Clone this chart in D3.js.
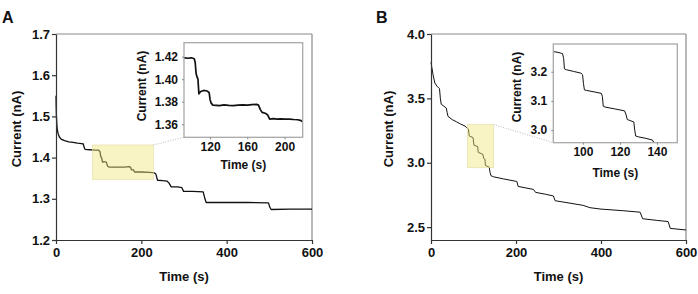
<!DOCTYPE html>
<html><head><meta charset="utf-8">
<script src="https://cdn.jsdelivr.net/npm/d3@7"></script>
<style>
body{margin:0;background:#fff;}
text{font-family:"Liberation Sans",Arial,sans-serif;font-weight:bold;fill:#111;}
</style></head><body>
<svg id="c" width="698" height="294"></svg>
<script>
// ---------- data ----------
const xTicksMain = [0, 200, 400, 600];
const yTicksA = [1.2, 1.3, 1.4, 1.5, 1.6, 1.7];
const yTicksB = [2.5, 3.0, 3.5, 4.0];
const xTicksInsetA = [120, 160, 200];
const yTicksInsetA = [1.36, 1.38, 1.40, 1.42];
const xTicksInsetB = [100, 120, 140];
const yTicksInsetB = [3.0, 3.1, 3.2];

const xDomainMain = [0, 600];
const yDomainA = [1.2, 1.7];
const yDomainB = [2.4, 4.0];
const insetAx = [92, 219.5], insetAy = [1.3484, 1.4324];
const insetBx = [84, 151], insetBy = [2.957, 3.295];
const highlightAx = [85, 228], highlightAy = [1.347, 1.4306];
const highlightBx = [86, 147], highlightBy = [2.961, 3.297];

// Panel A main trace [time s, current nA]
const traceA = [[0,1.55],[0.5,1.52],[1,1.50],[2,1.48],[3,1.468],[5,1.458],[8,1.450],[12,1.445],[20,1.441],[30,1.438],[40,1.437],[50,1.435],[60,1.434],[64,1.433],[66,1.425],[68,1.420],[80,1.419],[90,1.418],[100,1.418],[103,1.415],[105,1.402],[107,1.400],[109,1.389],[112,1.390],[118,1.389],[121,1.379],[124,1.377],[140,1.377],[160,1.377],[172,1.378],[175,1.376],[177,1.370],[182,1.370],[184,1.365],[200,1.365],[220,1.364],[230,1.363],[234,1.360],[238,1.345],[250,1.344],[260,1.343],[265,1.338],[270,1.329],[285,1.329],[295,1.327],[299,1.318],[320,1.318],[345,1.317],[349,1.300],[352,1.291],[400,1.291],[450,1.291],[498,1.290],[501,1.280],[504,1.274],[550,1.275],[600,1.275]];
// Panel A inset trace
const insetTraceA = [[90,1.4185],[93,1.4190],[96,1.4186],[100,1.4190],[103,1.4182],[104,1.4150],[105,1.4050],[106,1.4020],[107,1.4000],[108,1.3870],[110,1.3890],[113,1.3900],[117,1.3895],[119,1.3880],[120,1.3820],[121,1.3790],[123,1.3770],[127,1.3768],[130,1.3765],[135,1.3772],[140,1.3768],[145,1.3766],[150,1.3770],[155,1.3772],[160,1.3770],[165,1.3774],[170,1.3776],[172,1.3770],[174,1.3730],[176,1.3705],[180,1.3695],[182,1.3680],[184,1.3645],[188,1.3650],[192,1.3646],[196,1.3648],[200,1.3645],[205,1.3646],[210,1.3642],[214,1.3640],[217,1.3635],[220,1.3620]];
// Panel B main trace
const traceB = [[0,3.78],[2,3.74],[5,3.68],[9,3.62],[14,3.595],[20,3.575],[22,3.50],[24,3.455],[30,3.44],[36,3.425],[38,3.39],[40,3.36],[50,3.335],[60,3.318],[70,3.30],[80,3.285],[84,3.272],[88,3.262],[90,3.208],[99,3.195],[101,3.137],[110,3.126],[111,3.080],[122,3.066],[124,3.034],[127,3.028],[128,2.979],[137,2.966],[139,2.925],[141,2.900],[147,2.891],[170,2.875],[198,2.857],[202,2.855],[205,2.816],[241,2.793],[246,2.770],[270,2.755],[288,2.742],[292,2.705],[320,2.690],[358,2.669],[374,2.651],[400,2.640],[450,2.628],[492,2.616],[498,2.565],[530,2.553],[558,2.543],[563,2.490],[600,2.478]];
// Panel B inset trace
const insetTraceB = [[84,3.269],[86,3.267],[88,3.264],[89,3.262],[89.6,3.245],[90,3.210],[91,3.207],[95,3.201],[99,3.195],[99.8,3.190],[100.3,3.160],[100.8,3.138],[102,3.136],[106,3.131],[110,3.126],[110.5,3.115],[111,3.082],[112,3.079],[117,3.073],[122.5,3.066],[123.2,3.055],[124,3.036],[125,3.034],[127.5,3.028],[128,3.000],[128.5,2.980],[130,2.977],[134,2.972],[137.6,2.966],[138.5,2.955]];

// ---------- drawing ----------
const svg = d3.select("#c");
const defs = svg.append("defs");

function panel(o){
  const g = svg.append("g");
  const x = d3.scaleLinear().domain(xDomainMain).range([o.x0, o.x1]);
  const y = d3.scaleLinear().domain(o.yDomain).range([240, 34]);
  // frame top/right
  g.append("line").attr("x1",o.x0).attr("x2",o.x1).attr("y1",34).attr("y2",34).attr("stroke","#8a8a8a").attr("stroke-width",1.2);
  g.append("line").attr("x1",o.x1).attr("x2",o.x1).attr("y1",34).attr("y2",240).attr("stroke","#8a8a8a").attr("stroke-width",1.2);
  const line = d3.line().x(d=>x(d[0])).y(d=>y(d[1]));
  g.append("path").datum(o.trace).attr("d",line).attr("fill","none").attr("stroke","#111").attr("stroke-width",o.sw).attr("stroke-linejoin","round");
  // highlight
  g.append("rect").attr("x",x(o.hx[0])).attr("width",x(o.hx[1])-x(o.hx[0]))
    .attr("y",y(o.hy[1])).attr("height",y(o.hy[0])-y(o.hy[1]))
    .attr("fill","#f0e67c").attr("fill-opacity",0.45).attr("stroke","#e2dca0").attr("stroke-width",0.6);
  // axes
  const ax = g.append("g").attr("transform","translate(0,240)")
    .call(d3.axisBottom(x).tickValues(xTicksMain).tickSize(4).tickSizeOuter(0).tickPadding(4).tickFormat(d3.format("d")));
  const ay = g.append("g").attr("transform",`translate(${o.x0},0)`)
    .call(d3.axisLeft(y).tickValues(o.yTicks).tickSize(4).tickSizeOuter(0).tickPadding(2).tickFormat(d3.format(".1f")));
  [ax,ay].forEach(a=>{
    a.select(".domain").attr("stroke","#333").attr("stroke-width",1.2);
    a.selectAll(".tick line").attr("stroke","#333").attr("stroke-width",1.2);
    a.selectAll("text").attr("font-size",13).attr("fill","#111");
  });
  g.append("text").attr("x",(o.x0+o.x1)/2).attr("y",281).attr("text-anchor","middle").attr("font-size",13).text("Time (s)");
  g.append("text").attr("transform",`translate(${o.ylx},129) rotate(-90)`).attr("text-anchor","middle").attr("dy","0.35em").attr("font-size",13).text("Current (nA)");
  g.append("text").attr("x",o.lx).attr("y",23).attr("font-size",16).text(o.letter);

  // inset
  const ix = d3.scaleLinear().domain(o.ixd).range([o.ix0, o.ix1]);
  const iy = d3.scaleLinear().domain(o.iyd).range([o.iy1, o.iy0]);
  // connector
  g.append("line").attr("x1",x(o.hx[1])).attr("y1",y(o.hy[1])).attr("x2",o.ix0).attr("y2",o.iy1)
    .attr("stroke","#aaa").attr("stroke-width",0.8).attr("stroke-dasharray","1,1.5");
  const cid = "clip"+o.letter;
  defs.append("clipPath").attr("id",cid).append("rect").attr("x",o.ix0).attr("y",o.iy0).attr("width",o.ix1-o.ix0).attr("height",o.iy1-o.iy0);
  g.append("rect").attr("x",o.ix0).attr("y",o.iy0).attr("width",o.ix1-o.ix0).attr("height",o.iy1-o.iy0).attr("fill","#fff");
  const iline = d3.line().x(d=>ix(d[0])).y(d=>iy(d[1]));
  g.append("path").datum(o.itrace).attr("d",iline).attr("clip-path",`url(#${cid})`).attr("fill","none").attr("stroke","#111").attr("stroke-width",o.isw).attr("stroke-linejoin","round");
  g.append("rect").attr("x",o.ix0).attr("y",o.iy0).attr("width",o.ix1-o.ix0).attr("height",o.iy1-o.iy0).attr("fill","none").attr("stroke","#a8a8a8").attr("stroke-width",1.3);
  const iax = g.append("g").attr("transform",`translate(0,${o.iy1})`)
    .call(d3.axisBottom(ix).tickValues(o.ixt).tickSize(2).tickSizeOuter(0).tickPadding(3).tickFormat(d3.format("d")));
  const iay = g.append("g").attr("transform",`translate(${o.ix0},0)`)
    .call(d3.axisLeft(iy).tickValues(o.iyt).tickSize(2).tickSizeOuter(0).tickPadding(4).tickFormat(d3.format(o.iyf)));
  [iax,iay].forEach(a=>{
    a.select(".domain").remove();
    a.selectAll(".tick line").attr("stroke","#888");
    a.selectAll("text").attr("font-size",12).attr("fill","#111");
  });
  g.append("text").attr("x",(o.ix0+o.ix1)/2).attr("y",o.itly).attr("text-anchor","middle").attr("font-size",12).text("Time (s)");
  g.append("text").attr("transform",`translate(${o.iylx},${o.iylc}) rotate(-90)`).attr("text-anchor","middle").attr("dy","0.35em").attr("font-size",12).text("Current (nA)");
}

panel({letter:"A", lx:2, x0:56, x1:312, yDomain:yDomainA, yTicks:yTicksA, trace:traceA, sw:1.3, ylx:16,
  hx:highlightAx, hy:highlightAy,
  ix0:184, ix1:302.7, iy0:42.7, iy1:137.3, ixd:insetAx, iyd:insetAy, itrace:insetTraceA, isw:1.7,
  ixt:xTicksInsetA, iyt:yTicksInsetA, iyf:".2f", itly:169, iylx:142, iylc:86});
panel({letter:"B", lx:376, x0:431, x1:686, yDomain:yDomainB, yTicks:yTicksB, trace:traceB, sw:1.0, ylx:388,
  hx:highlightBx, hy:highlightBy,
  ix0:553.3, ix1:677.3, iy0:44, iy1:142.7, ixd:insetBx, iyd:insetBy, itrace:insetTraceB, isw:1.0,
  ixt:xTicksInsetB, iyt:yTicksInsetB, iyf:".1f", itly:177, iylx:517, iylc:87});
</script>
</body></html>
